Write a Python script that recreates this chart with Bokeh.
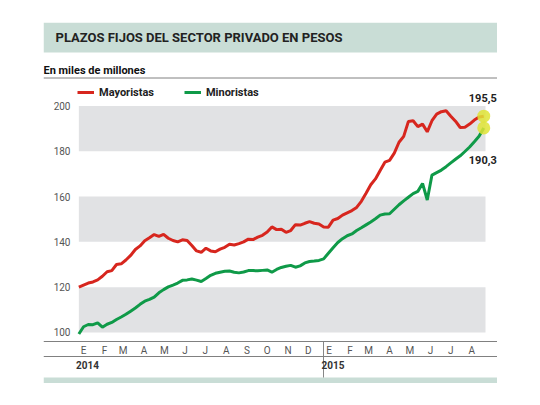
import pandas as pd
from bokeh.plotting import figure
from bokeh.models import (BoxAnnotation, Label, Legend, LegendItem, LinearAxis,
                          FixedTicker, Range1d, Span, CustomJSTickFormatter)
from bokeh.embed import file_html
from bokeh.resources import INLINE

# ---------------- data ----------------
title_text = "PLAZOS FIJOS DEL SECTOR PRIVADO EN PESOS"
subtitle_text = "En miles de millones"
series_names = ["Mayoristas", "Minoristas"]

dates = pd.date_range("2014-01-03", periods=87, freq="7D")

mayoristas = [120.0, 120.9, 121.8, 122.3, 123.2, 124.8, 126.8, 127.3, 130.0, 130.3,
              132.0, 134.0, 136.6, 138.2, 140.5, 141.8, 143.2, 142.4, 143.3, 141.6,
              140.6, 140.0, 140.9, 140.6, 138.4, 136.0, 135.4, 137.2, 136.0, 135.6,
              136.8, 137.6, 138.9, 138.6, 139.2, 140.0, 141.2, 141.0, 142.1, 142.9,
              144.3, 146.6, 145.4, 145.6, 144.2, 145.0, 147.6, 147.4, 148.2, 148.9,
              148.2, 147.9, 146.6, 146.5, 149.6, 150.3, 151.8, 152.8, 153.8, 155.2,
              157.9, 161.5, 165.2, 167.8, 171.5, 175.2, 176.0, 179.2, 184.0, 186.6,
              193.2, 193.5, 190.9, 192.0, 188.6, 193.5, 196.4, 197.5, 197.9, 195.5,
              193.3, 190.5, 190.6, 192.0, 193.8, 195.1, 195.5]

minoristas = [99.3, 102.5, 103.5, 103.4, 104.2, 102.3, 103.6, 104.4, 105.7, 106.8,
              108.0, 109.4, 110.8, 112.4, 113.8, 114.6, 115.6, 117.5, 118.9, 120.1,
              120.9, 121.8, 123.0, 123.2, 123.6, 123.1, 122.5, 123.8, 125.2, 126.1,
              126.6, 127.0, 127.1, 126.6, 126.3, 126.7, 127.3, 127.3, 127.2, 127.4,
              127.6, 126.6, 127.8, 128.7, 129.2, 129.6, 128.8, 129.4, 130.7, 131.3,
              131.5, 131.8, 132.5, 135.0, 137.4, 139.7, 141.4, 142.7, 143.5, 145.0,
              146.2, 147.5, 148.8, 150.2, 151.8, 152.3, 152.4, 154.4, 156.4, 158.1,
              159.7, 161.3, 162.3, 165.8, 158.5, 169.5, 170.6, 171.7, 173.2, 174.9,
              176.5, 178.0, 179.9, 181.9, 184.2, 186.6, 190.3]

month_labels = ["E", "F", "M", "A", "M", "J", "J", "A", "S", "O", "N", "D",
                "E", "F", "M", "A", "M", "J", "J", "A"]
month_starts = pd.date_range("2014-01-01", periods=20, freq="MS")
year_labels = ["2014", "2015"]
year_starts = pd.to_datetime(["2014-01-01", "2015-01-01"])
y_ticks = [100, 120, 140, 160, 180, 200]
bands = [(100, 120), (140, 160), (180, 200)]
final_values = [195.5, 190.3]
final_labels = ["195,5", "190,3"]

# ---------------- styling ----------------
FONT = "Roboto"
RED = "#d7261e"
GREEN = "#0f9a48"
BAND = "#e1e2e4"
TEAL = "#c9ddd6"
LINE = "#808080"

origin = pd.Timestamp("2014-01-01")
x_days = [(d - origin).days for d in dates]
year_day = (year_starts[1] - origin).days

LOOKUP = "const i = tks.indexOf(tick); return i >= 0 ? lbls[i] : '';"

# frame covers the whole graphic; axes are fixed inside it
p = figure(width=497, height=383,
           x_range=Range1d(-50.55, 624.44), y_range=Range1d(77.44, 236.88),
           x_axis_type=None, y_axis_type=None,
           output_backend="svg", toolbar_location=None,
           min_border_left=43, min_border_right=0,
           min_border_top=22, min_border_bottom=0,
           background_fill_color="white", border_fill_color="white",
           outline_line_color=None)
p.xgrid.visible = False
p.ygrid.visible = False

# gray bands
for lo, hi in bands:
    p.add_layout(BoxAnnotation(bottom=lo, top=hi, left=2, right=606.6,
                               fill_color=BAND, fill_alpha=1.0,
                               line_color=None, level="underlay"))

# header bar, rules, bottom bar
p.add_layout(BoxAnnotation(bottom=331, bottom_units="screen", fill_color=TEAL,
                           fill_alpha=1.0, line_color=None, level="underlay"))
p.add_layout(BoxAnnotation(top=6, top_units="screen", fill_color=TEAL,
                           fill_alpha=1.0, line_color=None, level="underlay"))
for loc in [305.5, 42, 27]:
    p.add_layout(Span(location=loc, location_units="screen", dimension="width",
                      line_color=LINE, line_width=1, level="underlay"))
p.add_layout(BoxAnnotation(left=year_day, right=year_day + 1.4,
                           top=42, top_units="screen",
                           bottom=6, bottom_units="screen",
                           fill_color=LINE, fill_alpha=1.0, line_color=None,
                           level="underlay"))

axis_style = dict(axis_line_color=None, major_tick_line_color=None,
                  minor_tick_line_color=None, major_tick_in=0, major_tick_out=0,
                  minor_tick_in=0, minor_tick_out=0,
                  major_label_text_font=FONT, major_label_text_font_size="10px")

# axes
yaxis = LinearAxis(ticker=FixedTicker(ticks=y_ticks), fixed_location=0,
                   major_label_standoff=7, major_label_text_color="#555555",
                   **axis_style)
p.add_layout(yaxis, "left")

month_ticks = [(m - origin).days + 9 for m in month_starts]
xaxis = LinearAxis(ticker=FixedTicker(ticks=month_ticks), fixed_location=96.0,
                   formatter=CustomJSTickFormatter(
                       args=dict(tks=month_ticks, lbls=month_labels), code=LOOKUP),
                   major_label_standoff=4, major_label_text_color="#555555",
                   **axis_style)
p.add_layout(xaxis, "below")

year_ticks = [(y - origin).days + 15 for y in year_starts]
yearaxis = LinearAxis(ticker=FixedTicker(ticks=year_ticks), fixed_location=89.37,
                      formatter=CustomJSTickFormatter(
                          args=dict(tks=year_ticks, lbls=year_labels), code=LOOKUP),
                      major_label_standoff=5, major_label_text_font_style="bold",
                      major_label_text_color="#333333", **axis_style)
p.add_layout(yearaxis, "below")

# series
r1 = p.line(x_days, mayoristas, line_color=RED, line_width=3)
r2 = p.line(x_days, minoristas, line_color=GREEN, line_width=3)

p.scatter(x=[x_days[-1]] * len(final_values), y=final_values, size=13,
          fill_color="#dfe436", fill_alpha=0.85, line_color=None)

for val, lbl, dy in zip(final_values, final_labels, [18, -32]):
    p.add_layout(Label(x=x_days[-1], y=val, text=lbl, x_offset=13, y_offset=dy,
                       text_align="right", text_baseline="middle",
                       text_font=FONT, text_font_size="11px",
                       text_font_style="bold", text_color="#222222"))

legend = Legend(items=[LegendItem(label=series_names[0], renderers=[r1]),
                       LegendItem(label=series_names[1], renderers=[r2])],
                orientation="horizontal", location=(34, 284),
                glyph_width=17, glyph_height=14, label_standoff=5, spacing=30,
                padding=0, margin=0, border_line_color=None,
                background_fill_alpha=0.0,
                label_text_font=FONT, label_text_font_size="11px",
                label_text_font_style="bold", label_text_color="#222222")
p.add_layout(legend)

# header texts (screen units: from frame left / frame bottom)
p.add_layout(Label(x=12, y=346, x_units="screen", y_units="screen",
                   text=title_text, text_baseline="middle",
                   text_font=FONT, text_font_size="13px",
                   text_font_style="bold", text_color="#222222"))
p.add_layout(Label(x=0, y=313, x_units="screen", y_units="screen",
                   text=subtitle_text, text_baseline="middle",
                   text_font=FONT, text_font_size="11px",
                   text_font_style="bold", text_color="#111111"))

open("out.html", "w").write(file_html(p, INLINE))
